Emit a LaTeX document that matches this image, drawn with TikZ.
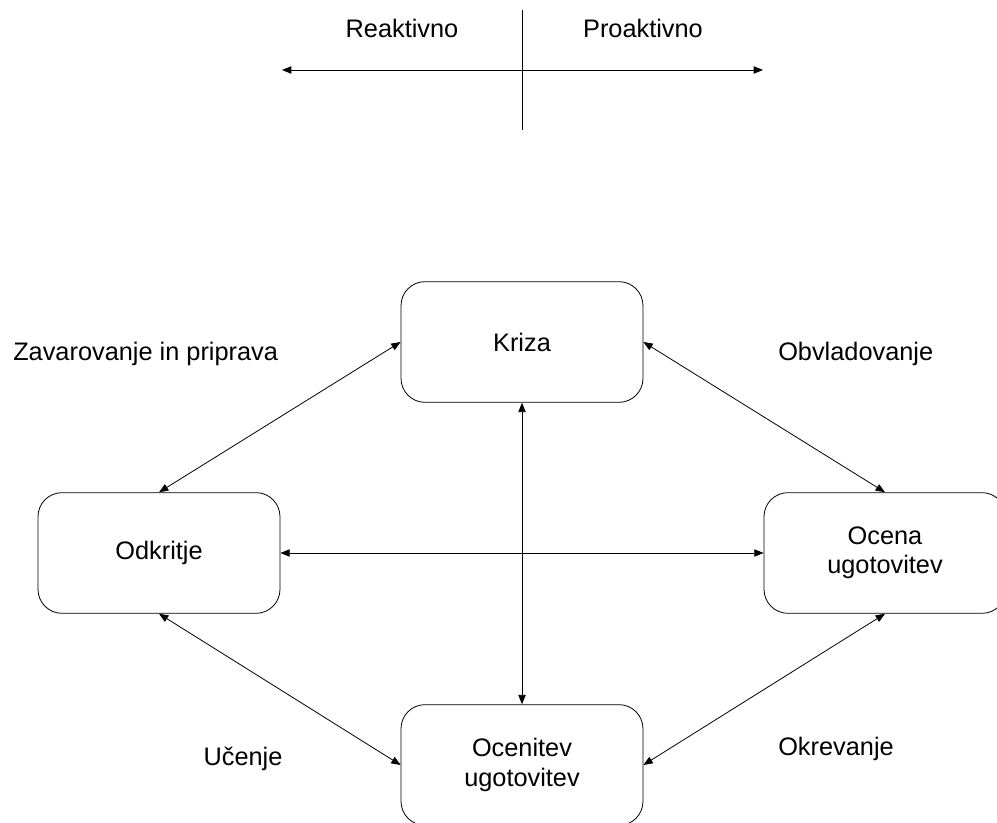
\documentclass[tikz,border=0pt]{standalone}
\usepackage{fontspec}
\setmainfont{Liberation Sans}
\usetikzlibrary{arrows.meta,positioning}
\tikzset{
  stage/.style={draw, rounded corners=18pt, minimum width=181.5pt,
    minimum height=90.5pt, align=center, line width=0.6pt},
  link/.style={{Triangle[length=7pt,width=5.5pt]}-{Triangle[length=7pt,width=5.5pt]}, line width=0.6pt},
  tag/.style={inner sep=0pt}
}

\begin{document}
\begin{tikzpicture}[x=0.75pt, y=-0.75pt, font=\fontsize{19}{22}\selectfont]
  \clip (0,0) rectangle (997,823);
  % reactive / proactive axis
  \coordinate (axL) at (282,70);
  \coordinate (axR) at (763,70);
  \coordinate (axT) at (522,10);
  \coordinate (axB) at (522,130);
  \draw[link] (axL) -- (axR);
  \draw[line width=0.6pt] (axT) -- (axB);
  \node[tag] (reakt) at (402,28) {Reaktivno};
  \node[tag] (proakt) at (643,28) {Proaktivno};

  % the four phases
  \node[stage] (kriza) at (522,342) {Kriza};
  \node[stage] (odkritje) at (159,553) {Odkritje};
  \node[stage] (ocena) at (885,553) {Ocena\\ugotovitev};
  \node[stage] (ocenitev) at (522,765) {Ocenitev\\ugotovitev};

  \draw[link] (kriza.west) -- (odkritje.north);
  \draw[link] (kriza.east) -- (ocena.north);
  \draw[link] (kriza.south) -- (ocenitev.north);
  \draw[link] (odkritje.east) -- (ocena.west);
  \draw[link] (odkritje.south) -- (ocenitev.west);
  \draw[link] (ocenitev.east) -- (ocena.south);

  \node[tag, anchor=west] (zavar) at (13,354) {Zavarovanje in priprava};
  \node[tag, anchor=west] (obvlad) at (778,354) {Obvladovanje};
  \node[tag] (ucenje) at (243,759) {Učenje};
  \node[tag] (okrev) at (836,749) {Okrevanje};
\end{tikzpicture}
\end{document}
